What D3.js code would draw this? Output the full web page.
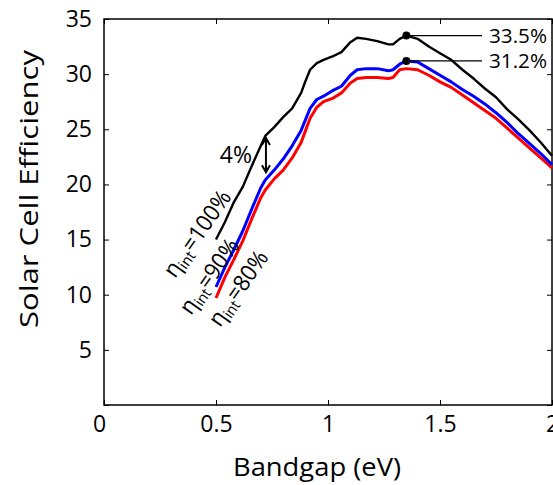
<!DOCTYPE html>
<html><head><meta charset="utf-8">
<script src="https://cdn.jsdelivr.net/npm/d3@7"></script>
<style>
html,body{margin:0;padding:0;background:#fff;overflow:hidden;}
text{font-family:"Open Sans",sans-serif;fill:#000;}
</style></head>
<body><svg id="c" width="553" height="485"></svg>
<script>
const bandgap = [0.50,0.54,0.58,0.62,0.66,0.70,0.72,0.76,0.80,0.84,0.88,0.90,0.92,0.95,0.98,1.02,1.06,1.10,1.13,1.17,1.22,1.27,1.29,1.32,1.35,1.40,1.45,1.50,1.55,1.60,1.65,1.70,1.75,1.80,1.85,1.90,1.95,2.00];
const eff100 = [15.0,16.6,18.4,19.8,21.7,23.5,24.4,25.2,26.1,26.9,28.3,29.4,30.4,31.0,31.3,31.6,32.0,32.9,33.3,33.2,33.0,32.7,32.7,33.2,33.5,33.2,32.5,31.9,31.3,30.4,29.6,28.7,27.9,26.8,25.9,24.9,23.8,22.6];
const eff90  = [10.7,12.5,14.1,15.8,17.8,19.7,20.4,21.3,22.3,23.5,24.9,25.9,26.9,27.7,28.0,28.5,28.9,29.9,30.4,30.5,30.5,30.3,30.4,30.9,31.2,31.1,30.5,29.9,29.3,28.6,28.0,27.3,26.5,25.6,24.6,23.7,22.8,21.8];
const eff80  = [9.7,11.6,13.2,14.9,16.9,18.8,19.5,20.5,21.3,22.4,23.8,24.9,26.0,27.0,27.5,27.8,28.3,29.2,29.6,29.7,29.7,29.6,29.7,30.4,30.5,30.4,29.9,29.3,28.8,28.1,27.4,26.7,26.0,25.1,24.2,23.3,22.4,21.5];
const seriesNames = ["100%","90%","80%"];
const seriesColors = ["#000000","#0000ff","#ff0000"];
const xTicks = [0,0.5,1,1.5,2];
const xTickLabels = ["0","0.5","1","1.5","2"];
const yTicks = [0,5,10,15,20,25,30,35];
const yTickLabels = ["","5","10","15","20","25","30","35"];
const peakX = 1.35;
const peakVals = [33.5,31.2];
const peakLabels = ["33.5%","31.2%"];
const arrowX = 0.723, arrowTop = 24.2, arrowBottom = 21.1;
const gapLabel = "4%";

const svg = d3.select("#c");
const x = d3.scaleLinear().domain([0,2]).range([104,552]);
const y = d3.scaleLinear().domain([0,35]).range([405,19]);

// frame
svg.append("rect").attr("x",104).attr("y",19).attr("width",448).attr("height",386)
  .attr("fill","none").attr("stroke","#000").attr("stroke-width",1.5);

const styleAxis = g => { g.select(".domain").remove(); g.selectAll(".tick line").attr("stroke","#000").attr("stroke-width",1); };
const xg = svg.append("g").attr("transform","translate(0,405)")
  .call(d3.axisBottom(x).tickValues(xTicks).tickSize(-5).tickPadding(11).tickFormat((d,i)=>xTickLabels[i]))
  .call(styleAxis);
xg.selectAll("text").attr("font-size",23).attr("font-family","Open Sans").attr("dx",(d,i)=>i===0?-5:0);
svg.append("g").attr("transform","translate(0,19)")
  .call(d3.axisTop(x).tickValues(xTicks).tickSize(-5).tickFormat(""))
  .call(styleAxis);
svg.append("g").attr("transform","translate(104,0)")
  .call(d3.axisLeft(y).tickValues(yTicks).tickSize(-5).tickPadding(12).tickFormat((d,i)=>yTickLabels[i]))
  .call(styleAxis).selectAll("text").attr("font-size",23).attr("font-family","Open Sans");
svg.append("g").attr("transform","translate(552,0)")
  .call(d3.axisRight(y).tickValues(yTicks).tickSize(-5).tickFormat(""))
  .call(styleAxis);

// titles
svg.append("text").attr("x",317).attr("y",476).attr("text-anchor","middle").attr("font-size",26)
  .attr("textLength",168).attr("lengthAdjust","spacingAndGlyphs").text("Bandgap (eV)");
svg.append("text").attr("transform","translate(38,189) rotate(-90)").attr("text-anchor","middle").attr("font-size",26)
  .attr("textLength",278).attr("lengthAdjust","spacingAndGlyphs").text("Solar Cell Efficiency");

// lines
const data = [eff100, eff90, eff80];
const line = d3.line().x((d,i)=>x(bandgap[i])).y(d=>y(d));
[2,1,0].forEach(k=>{
  svg.append("path").datum(data[k]).attr("d",line).attr("fill","none")
    .attr("stroke",seriesColors[k]).attr("stroke-width",k===0?2.4:3).attr("stroke-linejoin","round");
});

// peak annotations
peakVals.forEach((v,i)=>{
  svg.append("line").attr("x1",x(peakX)).attr("x2",x(1.6875)).attr("y1",y(v)).attr("y2",y(v)).attr("stroke","#000").attr("stroke-width",1.2);
  svg.append("circle").attr("cx",x(peakX)).attr("cy",y(v)).attr("r",4).attr("fill","#000");
  svg.append("text").attr("x",x(1.6875)+7).attr("y",y(v)+7.5).attr("font-size",20)
    .attr("textLength",58).attr("lengthAdjust","spacingAndGlyphs").text(peakLabels[i]);
});

// arrow
const ax = x(arrowX), ay1 = y(arrowTop), ay2 = y(arrowBottom);
svg.append("line").attr("x1",ax).attr("x2",ax).attr("y1",ay1+1).attr("y2",ay2-1).attr("stroke","#000").attr("stroke-width",2);
svg.append("path").attr("d",`M${ax-4},${ay1+7}L${ax},${ay1}L${ax+4},${ay1+7}`).attr("fill","none").attr("stroke","#000").attr("stroke-width",2);
svg.append("path").attr("d",`M${ax-4},${ay2-7}L${ax},${ay2}L${ax+4},${ay2-7}`).attr("fill","none").attr("stroke","#000").attr("stroke-width",2);
svg.append("text").attr("x",ax-30).attr("y",ay1+25).attr("text-anchor","middle").attr("font-size",23).text(gapLabel);

// rotated eta labels
const labelPos = [[175,279],[191,316],[220,328]];
const labelLen = [100,86,86];
seriesNames.forEach((n,i)=>{
  const t = svg.append("text").attr("transform",`translate(${labelPos[i][0]},${labelPos[i][1]}) rotate(-55)`).attr("font-size",23)
    .attr("textLength",labelLen[i]).attr("lengthAdjust","spacingAndGlyphs");
  t.append("tspan").text("η");
  t.append("tspan").attr("font-size",15).attr("dy",4).text("int");
  t.append("tspan").attr("dy",-4).text("=" + n);
});
</script></body></html>
